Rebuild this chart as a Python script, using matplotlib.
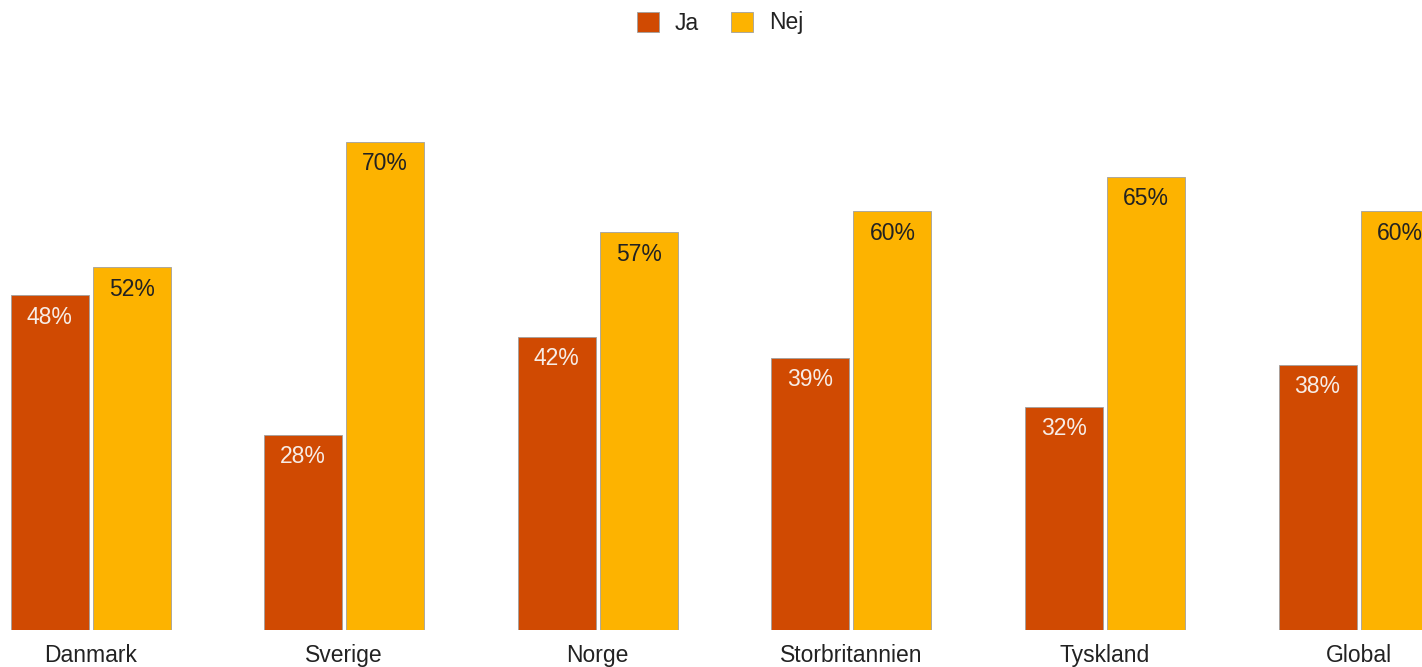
import matplotlib.pyplot as plt
import numpy as np

# Données
lande = ["Danmark", "Sverige", "Norge", "Storbritannien", "Tyskland", "Global"]
ja = [48, 28, 42, 39, 32, 38]
nej = [52, 70, 57, 60, 65, 60]

farve_ja = "#D04A02"
farve_nej = "#FDB300"

plt.rcParams['font.family'] = ['Liberation Sans', 'DejaVu Sans']

fig = plt.figure(figsize=(14.22, 6.67), dpi=100)
ax = fig.add_axes([0, 37 / 667, 1, 630 / 667])

x = np.arange(len(lande))
bredde = 0.3077
forskyd = 0.1617

b1 = ax.bar(x - forskyd, ja, bredde, color=farve_ja, edgecolor="#a0a0a0", linewidth=0.6)
b2 = ax.bar(x + forskyd, nej, bredde, color=farve_nej, edgecolor="#a0a0a0", linewidth=0.6)

ax.set_xlim(-0.357, 5.25)
ax.set_ylim(0, 90.3)

# etiketter inde i søjlerne
for i in range(len(lande)):
    ax.annotate(f"{ja[i]}%", (x[i] - forskyd, ja[i]), xytext=(0, -22), textcoords="offset pixels",
                ha="center", va="center", fontsize=16.5, color="#f7ece6", clip_on=True)
    ax.annotate(f"{nej[i]}%", (x[i] + forskyd, nej[i]), xytext=(0, -22), textcoords="offset pixels",
                ha="center", va="center", fontsize=16.5, color="#222222", clip_on=True)
    # landenavne under søjlerne
    ax.annotate(lande[i], (x[i], 0), xytext=(0, -32), textcoords="offset pixels",
                ha="center", va="baseline", fontsize=16.5, color="#222222", annotation_clip=False)

for s in ax.spines.values():
    s.set_visible(False)
ax.set_yticks([])
ax.set_xticks([])

leg = fig.legend([b1, b2], ["Ja", "Nej"], loc="center", bbox_to_anchor=(720 / 1422, 1 - 23 / 667),
                 ncol=2, frameon=False, fontsize=16.5, handlelength=0.95, handleheight=0.95,
                 handletextpad=0.7, columnspacing=1.4, labelcolor="#222222")

fig.savefig("out.png", dpi=100)
